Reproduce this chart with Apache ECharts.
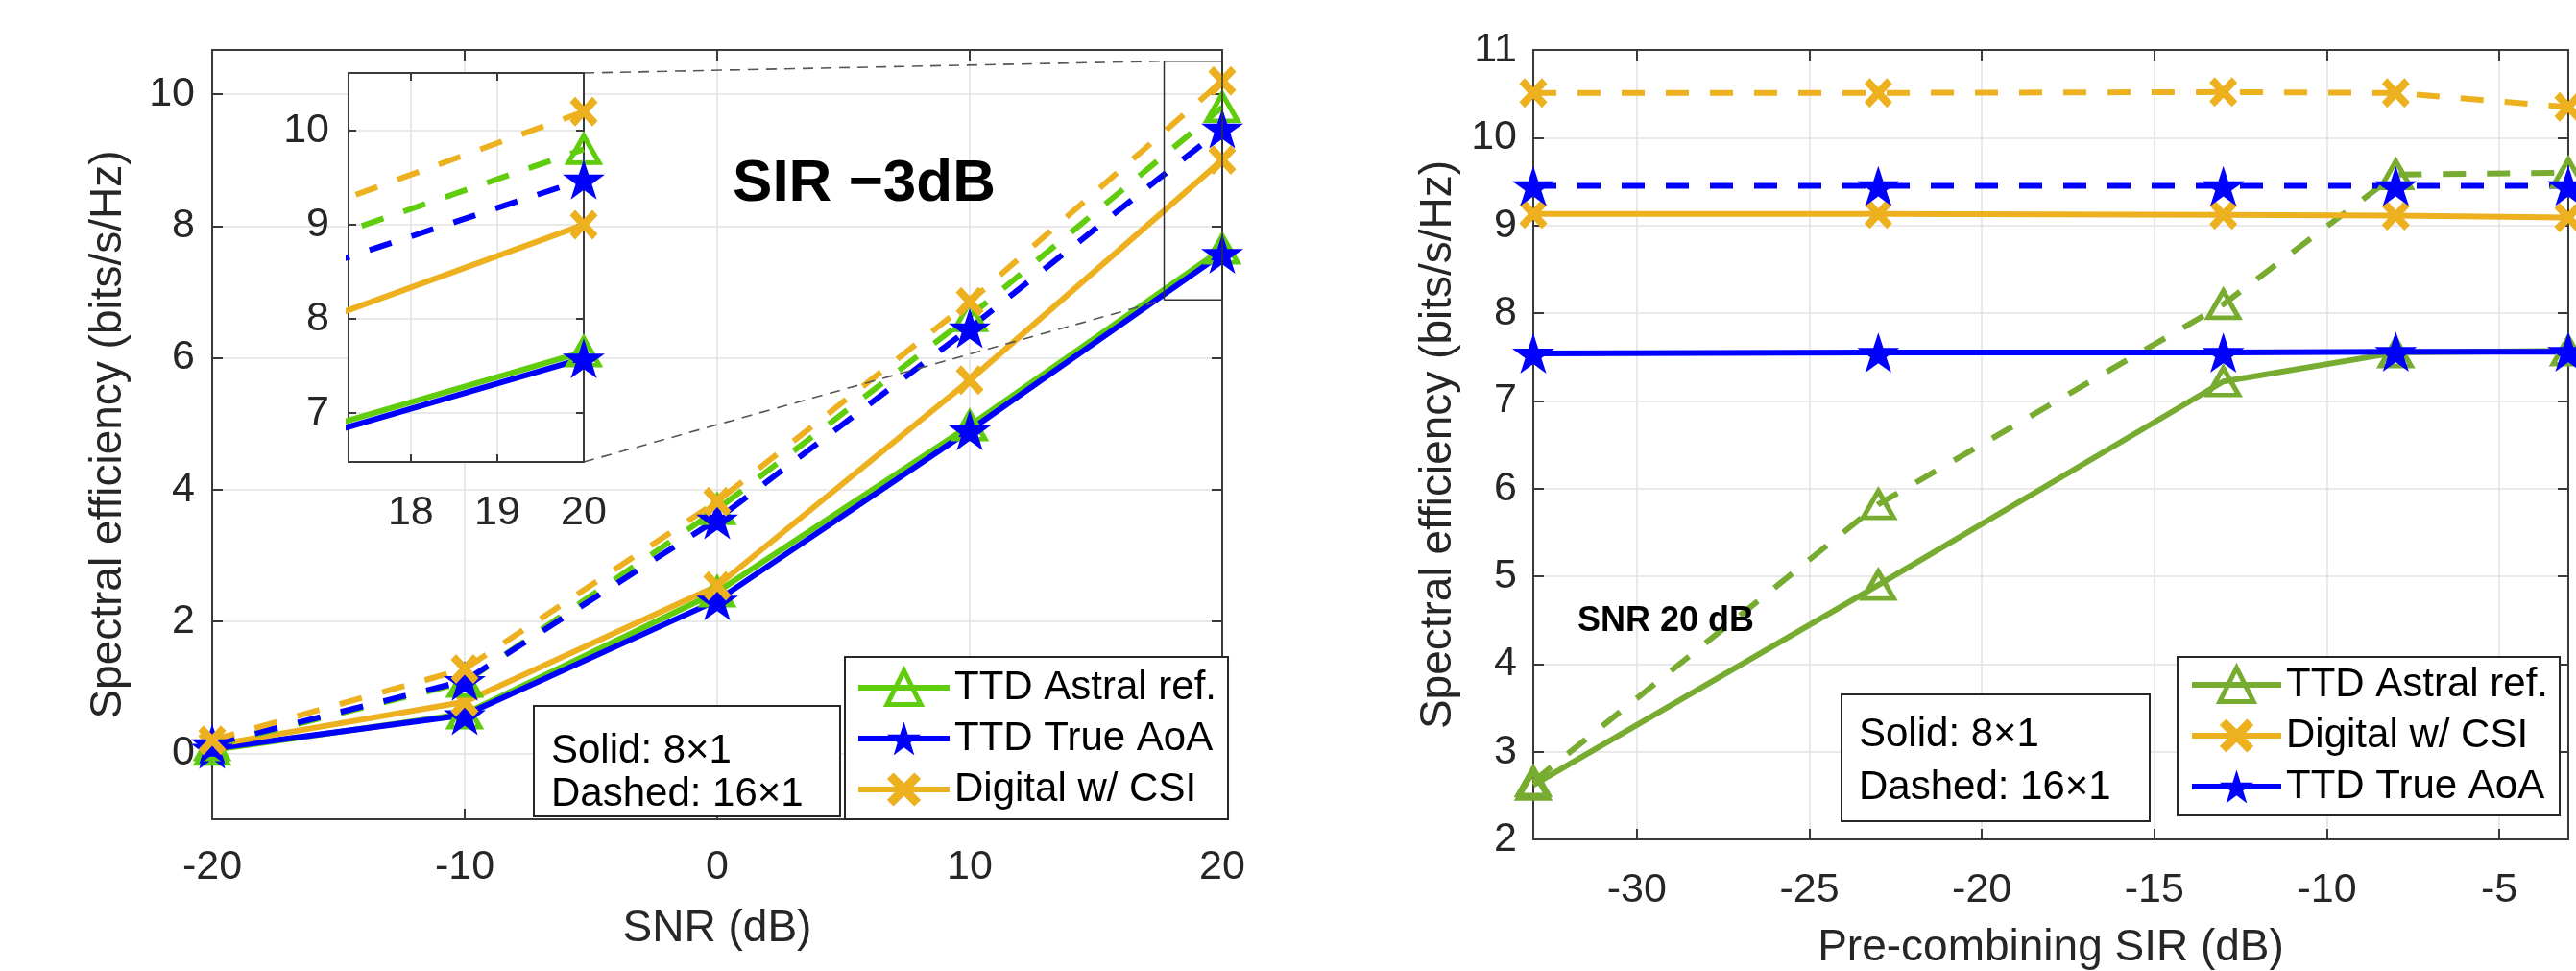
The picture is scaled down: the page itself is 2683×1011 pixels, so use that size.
<!DOCTYPE html>
<html>
<head>
<meta charset="utf-8">
<script src="https://cdn.jsdelivr.net/npm/echarts@6/dist/echarts.min.js"></script>
<style>
  html, body { margin: 0; padding: 0; background: #fff; }
  #left  { position: absolute; left: 0;      top: 0; width: 1400px; height: 1011px; }
  #right { position: absolute; left: 1400px; top: 0; width: 1283px; height: 1011px; }
</style>
</head>
<body>
<div id="left"></div>
<div id="right"></div>
<script>
// ---- SNR sweep, SIR fixed at -3 dB ----
const snrDb      = [-20, -10, 0, 10, 20];
const astral8    = [0.05, 0.60, 2.45, 4.97, 7.65];
const trueAoa8   = [0.07, 0.58, 2.32, 4.90, 7.58];
const digital8   = [0.12, 0.78, 2.54, 5.66, 9.00];
const astral16   = [0.12, 1.08, 3.70, 6.63, 9.80];
const trueAoa16  = [0.14, 1.10, 3.55, 6.45, 9.48];
const digital16  = [0.20, 1.28, 3.82, 6.85, 10.20];

// ---- Pre-combining SIR sweep, SNR fixed at 20 dB ----
const sirDb        = [-33, -23, -13, -8, -3];
const sirAstral8   = [2.62, 4.90, 7.22, 7.55, 7.57];
const sirAstral16  = [2.66, 5.82, 8.10, 9.58, 9.60];
const sirDigital8  = [9.13, 9.13, 9.12, 9.11, 9.09];
const sirDigital16 = [10.51, 10.51, 10.52, 10.51, 10.35];
const sirTrueAoa8  = [7.54, 7.55, 7.55, 7.56, 7.56];
const sirTrueAoa16 = [9.45, 9.45, 9.45, 9.45, 9.45];

// ---- axis ticks ----
const snrTicks     = [-20, -10, 0, 10, 20];
const seTicksLeft  = [0, 2, 4, 6, 8, 10];
const insetXTicks  = [18, 19, 20];
const insetYTicks  = [7, 8, 9, 10];
const sirTicks     = [-30, -25, -20, -15, -10, -5];
const seTicksRight = [2, 3, 4, 5, 6, 7, 8, 9, 10, 11];

// ---- axis ranges ----
const snrRange    = [-20, 20];
const seRangeL    = [-1, 10.67];
const insetXRange = [17.28, 20];
const insetYRange = [6.48, 10.61];
const zoomBoxX    = [17.7, 20];
const zoomBoxY    = [6.88, 10.5];
const sirRange    = [-33, -3];
const seRangeR    = [2, 11];

// ---- names ----
const nAstral  = 'TTD Astral ref.';
const nTrueAoa = 'TTD True AoA';
const nDigital = 'Digital w/ CSI';

const FONT    = '"Liberation Sans", Arial, sans-serif';
const TXT     = '#262626';
const AXC     = '#3a3a3a';
const GRIDC   = '#e2e2e2';
const GREEN_L = '#5fcc0c';
const GREEN_R = '#77ac30';
const BLUE    = '#0000ff';
const YELLOW  = '#edb120';
const TICK_FS = 43;
const LINE_W  = 6;

// five-pointed star and a thick "x" cross as path symbols
const STAR  = 'path://M100,0 L122.45,69.1 L195.1,69.1 L136.3,111.8 L158.8,180.9 L100,138.2 L41.2,180.9 L63.7,111.8 L4.9,69.1 L77.55,69.1 Z';
const CROSS = 'path://M0,1.9 L1.9,0 L5,3.1 L8.1,0 L10,1.9 L6.9,5 L10,8.1 L8.1,10 L5,6.9 L1.9,10 L0,8.1 L3.1,5 Z';

function markerStyle(kind, color) {
  if (kind === 'tri') {
    return { symbol: 'triangle', symbolSize: [32, 28],
             itemStyle: { color: 'rgba(255,255,255,0)', borderColor: color, borderWidth: 5 } };
  }
  if (kind === 'star') {
    return { symbol: STAR, symbolSize: 44, symbolKeepAspect: true,
             itemStyle: { color: color, borderWidth: 0 } };
  }
  return { symbol: CROSS, symbolSize: [29, 31], itemStyle: { color: color, borderWidth: 0 } };
}

function lineSeries(name, xs, ys, color, dashed, kind, axisIdx, z) {
  return Object.assign({
    type: 'line', name: name,
    data: xs.map((x, i) => [x, ys[i]]),
    xAxisIndex: axisIdx, yAxisIndex: axisIdx, z: z,
    showSymbol: true, showAllSymbol: true, silent: true, animation: false,
    lineStyle: { color: color, width: LINE_W, type: dashed ? [24, 22] : 'solid', cap: 'butt' },
    emphasis: { disabled: true }
  }, markerStyle(kind, color));
}

// one value axis; "main" axes carry labels/grid lines, mirror axes only ticks
function axis(o) {
  const a = {
    type: 'value', gridIndex: o.grid, position: o.pos, min: o.range[0], max: o.range[1],
    z: o.z || 0,
    axisLine: { show: true, onZero: false, lineStyle: { color: AXC, width: 2 } },
    axisTick: { show: true, inside: true, length: o.tickLen || 11,
                lineStyle: { color: AXC, width: 2 } },
    axisLabel: { show: !!o.labels, margin: o.margin || 20, color: TXT,
                 fontSize: TICK_FS, fontFamily: FONT, formatter: v => String(v) },
    splitLine: { show: !!o.labels, lineStyle: { color: GRIDC, width: 1.5 } }
  };
  if (o.ticks) {
    a.axisTick.customValues = o.ticks;
    a.axisLabel.customValues = o.ticks;
  }
  if (o.interval) a.interval = o.interval;
  if (o.name) {
    a.name = o.name; a.nameLocation = 'middle'; a.nameGap = o.nameGap;
    a.nameTextStyle = { fontSize: 46, color: TXT, fontFamily: FONT };
  }
  return a;
}

// legend entries: hollow triangle keeps its outline width, filled marks have none
function legendItem(name) {
  return { name: name, itemStyle: { borderWidth: name === nAstral ? 5 : 0 } };
}

function legendBox(left, top, names, pad, itemWidth) {
  return {
    left: left, top: top, orient: 'vertical', data: names.map(legendItem),
    itemWidth: itemWidth, itemHeight: 44, itemGap: 9,
    padding: pad, borderColor: '#262626', borderWidth: 2, backgroundColor: '#fff',
    selectedMode: false, z: 30,
    lineStyle: { width: LINE_W, type: 'solid' },
    textStyle: { fontSize: 42, fontFamily: FONT, color: '#000', lineHeight: 44 }
  };
}

function noteBox(x, y, w, h, rows) {
  const els = [{
    type: 'rect', z: 30, shape: { x: x, y: y, width: w, height: h },
    style: { fill: '#fff', stroke: '#262626', lineWidth: 2 }
  }];
  rows.forEach(r => els.push({
    type: 'text', z: 31, x: x + 18, y: r.y,
    style: { text: r.text, font: '42px ' + FONT, fill: '#000', verticalAlign: 'middle' }
  }));
  return els;
}

// =================== SNR sweep (left) ===================
const leftChart = echarts.init(document.getElementById('left'), null, { renderer: 'canvas' });

const leftSeries = [];
[[0, 2], [2, 12]].forEach(([ax, z]) => {
  leftSeries.push(
    lineSeries(nAstral,  snrDb, astral8,   GREEN_L, false, 'tri',  ax, z),
    lineSeries(nTrueAoa, snrDb, trueAoa8,  BLUE,    false, 'star', ax, z),
    lineSeries(nDigital, snrDb, digital8,  YELLOW,  false, 'x',    ax, z),
    lineSeries(nAstral,  snrDb, astral16,  GREEN_L, true,  'tri',  ax, z),
    lineSeries(nTrueAoa, snrDb, trueAoa16, BLUE,    true,  'star', ax, z),
    lineSeries(nDigital, snrDb, digital16, YELLOW,  true,  'x',    ax, z)
  );
});
// zoom window outline in the main axes
leftSeries.push({
  type: 'line', silent: true, animation: false, symbol: 'none', z: 4,
  xAxisIndex: 0, yAxisIndex: 0,
  data: [[zoomBoxX[0], zoomBoxY[0]], [zoomBoxX[1], zoomBoxY[0]], [zoomBoxX[1], zoomBoxY[1]],
         [zoomBoxX[0], zoomBoxY[1]], [zoomBoxX[0], zoomBoxY[0]]],
  lineStyle: { color: '#333', width: 1.5 }
});

leftChart.setOption({
  animation: false,
  backgroundColor: '#fff',
  grid: [
    { left: 221, top: 52, width: 1052, height: 801, show: false,
      containLabel: false, outerBoundsMode: 'none' },
    { left: 363, top: 76, width: 245, height: 405, show: true, backgroundColor: '#fff',
      borderWidth: 0, z: 10, containLabel: false, outerBoundsMode: 'none' }
  ],
  xAxis: [
    axis({ grid: 0, pos: 'bottom', range: snrRange, interval: 10, labels: true, margin: 29,
           name: 'SNR (dB)', nameGap: 91 }),
    axis({ grid: 0, pos: 'top', range: snrRange, interval: 10 }),
    axis({ grid: 1, pos: 'bottom', range: insetXRange, ticks: insetXTicks, labels: true,
           margin: 32, z: 11, tickLen: 8 }),
    axis({ grid: 1, pos: 'top', range: insetXRange, ticks: insetXTicks, z: 11, tickLen: 8 })
  ],
  yAxis: [
    axis({ grid: 0, pos: 'left', range: seRangeL, ticks: seTicksLeft, labels: true, margin: 18,
           name: 'Spectral efficiency (bits/s/Hz)', nameGap: 85 }),
    axis({ grid: 0, pos: 'right', range: seRangeL, ticks: seTicksLeft }),
    axis({ grid: 1, pos: 'left', range: insetYRange, ticks: insetYTicks, labels: true,
           margin: 20, z: 11, tickLen: 8 }),
    axis({ grid: 1, pos: 'right', range: insetYRange, ticks: insetYTicks, z: 11, tickLen: 8 })
  ],
  legend: legendBox(880, 684, [nAstral, nTrueAoa, nDigital], [10, 12, 9, 11], 95),
  series: leftSeries
});

// dashed connectors from the inset's right corners to the zoom window
const insetTop = leftChart.convertToPixel({ gridIndex: 1 }, [insetXRange[1], insetYRange[1]]);
const insetBot = leftChart.convertToPixel({ gridIndex: 1 }, [insetXRange[1], insetYRange[0]]);
const boxTop   = leftChart.convertToPixel({ gridIndex: 0 }, [zoomBoxX[0], zoomBoxY[1]]);
const boxBot   = leftChart.convertToPixel({ gridIndex: 0 }, [zoomBoxX[0], zoomBoxY[0]]);

leftChart.setOption({
  graphic: [
    { type: 'line', z: 5, silent: true,
      shape: { x1: insetTop[0], y1: insetTop[1], x2: boxTop[0], y2: boxTop[1] },
      style: { stroke: '#555', lineWidth: 1.6, lineDash: [11, 8] } },
    { type: 'line', z: 5, silent: true,
      shape: { x1: insetBot[0], y1: insetBot[1], x2: boxBot[0], y2: boxBot[1] },
      style: { stroke: '#555', lineWidth: 1.6, lineDash: [11, 8] } },
    { type: 'text', z: 31, x: 900, y: 192,
      style: { text: 'SIR \u22123dB', font: 'bold 62px ' + FONT, fill: '#000',
               align: 'center', verticalAlign: 'middle' } }
  ].concat(noteBox(556, 735, 319, 115, [
    { text: 'Solid: 8\u00d71', y: 782 },
    { text: 'Dashed: 16\u00d71', y: 827 }
  ]))
});

// =================== SIR sweep (right) ===================
const rightChart = echarts.init(document.getElementById('right'), null, { renderer: 'canvas' });

rightChart.setOption({
  animation: false,
  backgroundColor: '#fff',
  grid: [{ left: 197, top: 52, width: 1078, height: 822, show: false,
           containLabel: false, outerBoundsMode: 'none' }],
  xAxis: [
    axis({ grid: 0, pos: 'bottom', range: sirRange, ticks: sirTicks, labels: true, margin: 32,
           name: 'Pre-combining SIR (dB)', nameGap: 90 }),
    axis({ grid: 0, pos: 'top', range: sirRange, ticks: sirTicks })
  ],
  yAxis: [
    axis({ grid: 0, pos: 'left', range: seRangeR, interval: 1, labels: true, margin: 17,
           name: 'Spectral efficiency (bits/s/Hz)', nameGap: 74 }),
    axis({ grid: 0, pos: 'right', range: seRangeR, interval: 1 })
  ],
  legend: legendBox(868, 684, [nAstral, nDigital, nTrueAoa], [7, 12, 8, 12], 93),
  series: [
    lineSeries(nAstral,  sirDb, sirAstral8,   GREEN_R, false, 'tri',  0, 2),
    lineSeries(nAstral,  sirDb, sirAstral16,  GREEN_R, true,  'tri',  0, 2),
    lineSeries(nDigital, sirDb, sirDigital8,  YELLOW,  false, 'x',    0, 2),
    lineSeries(nDigital, sirDb, sirDigital16, YELLOW,  true,  'x',    0, 2),
    lineSeries(nTrueAoa, sirDb, sirTrueAoa8,  BLUE,    false, 'star', 0, 2),
    lineSeries(nTrueAoa, sirDb, sirTrueAoa16, BLUE,    true,  'star', 0, 2)
  ],
  graphic: [
    { type: 'text', z: 31, x: 243, y: 647,
      style: { text: 'SNR 20 dB', font: 'bold 36px ' + FONT, fill: '#000', verticalAlign: 'middle' } }
  ].concat(noteBox(518, 723, 321, 132, [
    { text: 'Solid: 8\u00d71', y: 765 },
    { text: 'Dashed: 16\u00d71', y: 820 }
  ]))
});
</script>
</body>
</html>
